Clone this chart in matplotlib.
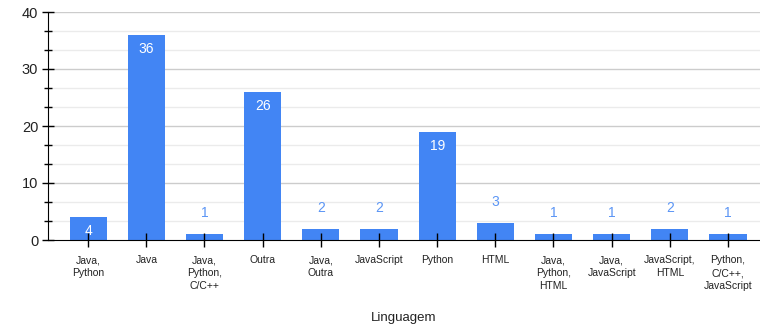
import matplotlib
matplotlib.use("Agg")
import matplotlib.pyplot as plt
from matplotlib.ticker import MultipleLocator

plt.rcParams['font.family'] = ['Liberation Sans', 'DejaVu Sans']

categories = ["Java,\nPython", "Java", "Java,\nPython,\nC/C++", "Outra", "Java,\nOutra",
              "JavaScript", "Python", "HTML", "Java,\nPython,\nHTML", "Java,\nJavaScript",
              "JavaScript,\nHTML", "Python,\nC/C++,\nJavaScript"]
counts = [4, 36, 1, 26, 2, 2, 19, 3, 1, 1, 2, 1]

bar_color = "#4285F4"

fig = plt.figure(figsize=(7.6, 3.28), dpi=100)
ax = fig.add_axes([48 / 760, 1 - 240 / 328, 712 / 760, 228 / 328])

ax.set_ylim(0, 40)
ax.set_xlim(-0.69, 11.55)
ax.yaxis.set_major_locator(MultipleLocator(10))
ax.yaxis.set_minor_locator(MultipleLocator(10 / 3))

# gridlines drawn as plain lines underneath the bars
for yv in ax.yaxis.get_minorticklocs():
    ax.axhline(yv, color="#ebebeb", linewidth=1, zorder=0)
for yv in ax.yaxis.get_majorticklocs():
    if 0 < yv <= 40:
        ax.axhline(yv, color="#cccccc", linewidth=1, zorder=0.5)

x = list(range(len(categories)))
ax.bar(x, counts, width=0.64, color=bar_color, zorder=2)

for xi, v in zip(x, counts):
    if v >= 4:
        ax.annotate(str(v), (xi, v), xytext=(0, -5), textcoords="offset points",
                    ha="center", va="top", color="white", fontsize=10, zorder=4)
    else:
        ax.annotate(str(v), (xi, v), xytext=(0, 10), textcoords="offset points",
                    ha="center", va="bottom", color="#5b95f5", fontsize=10, zorder=4)

ax.set_xticks(x)
ax.set_xticklabels(categories, fontsize=7.5, color="#222222", linespacing=1.35)
ax.tick_params(axis="x", direction="inout", length=10, width=1, color="black", pad=6)
ax.tick_params(axis="y", which="major", direction="inout", length=8, width=1,
               labelsize=10.5, labelcolor="#222222", pad=3)
ax.tick_params(axis="y", which="minor", direction="inout", length=6, width=1)
ax.xaxis.set_zorder(5)
ax.yaxis.set_zorder(5)

for side in ["top", "right"]:
    ax.spines[side].set_visible(False)
ax.spines["left"].set_color("black")
ax.spines["bottom"].set_color("black")
ax.spines["bottom"].set_zorder(5)
ax.spines["left"].set_zorder(5)

ax.set_xlabel("Linguagem", fontsize=9.5, color="#222222", labelpad=15)

fig.savefig("out.png", dpi=100)
